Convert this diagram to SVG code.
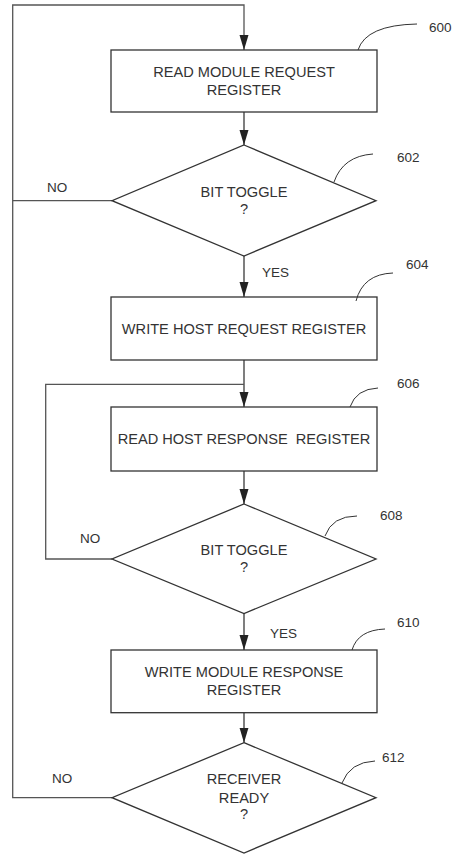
<svg xmlns="http://www.w3.org/2000/svg" width="455" height="854" viewBox="0 0 455 854">
<style>
.shape{fill:#fff;stroke:#333;stroke-width:1.3}
.line{fill:none;stroke:#3a3a3a;stroke-width:1.3}
.loop{fill:none;stroke:#555;stroke-width:1.3}
.lead{fill:none;stroke:#333;stroke-width:1}
text{font-family:"Liberation Sans",Arial,sans-serif;fill:#333}
.t{font-size:14.6px;text-anchor:middle}
.l{font-size:13.5px}
</style>
<defs>
<marker id="arr" markerUnits="userSpaceOnUse" markerWidth="16" markerHeight="10" refX="15" refY="4.5" orient="auto">
<path d="M0,0 L15,4.5 L0,9 z" fill="#222"/>
</marker>
</defs>
<g id="connectors">
<path class="loop" d="M112,797.7 H12.7 V5 H244 V50" marker-end="url(#arr)"/>
<path class="loop" d="M112,200.7 H12.7"/>
<path class="line" d="M244,112 V145" marker-end="url(#arr)"/>
<path class="line" d="M244,256 V297" marker-end="url(#arr)"/>
<path class="line" d="M244,360 V407" marker-end="url(#arr)"/>
<path class="loop" d="M112,559 H45.7 V384.3 H244"/>
<path class="line" d="M244,471 V504" marker-end="url(#arr)"/>
<path class="line" d="M244,613.5 V650" marker-end="url(#arr)"/>
<path class="line" d="M244,712.7 V742.7" marker-end="url(#arr)"/>
<text class="l" x="47" y="192">NO</text>
<text class="l" x="80" y="543">NO</text>
<text class="l" x="52" y="783">NO</text>
<text class="l" x="262" y="277">YES</text>
<text class="l" x="270" y="638">YES</text>
</g>
<g id="n600">
<rect class="shape" x="111" y="50" width="266" height="62"/>
<text class="t" x="244" y="77">READ MODULE REQUEST</text>
<text class="t" x="244" y="95">REGISTER</text>
<path class="lead" d="M358,50 Q366,25 417,24"/>
<text class="l" x="429" y="32">600</text>
</g>
<g id="n602">
<polygon class="shape" points="244,145 376,200.7 244,256 112,200.7"/>
<text class="t" x="244" y="197">BIT TOGGLE</text>
<text class="t" x="244" y="214">?</text>
<path class="lead" d="M334,182 Q343,156 373,154"/>
<text class="l" x="397" y="162">602</text>
</g>
<g id="n604">
<rect class="shape" x="111" y="297" width="266" height="63"/>
<text class="t" x="244" y="333.5">WRITE HOST REQUEST REGISTER</text>
<path class="lead" d="M356,301 Q363,274 393,273"/>
<text class="l" x="406" y="269">604</text>
</g>
<g id="n606">
<rect class="shape" x="111" y="407" width="266" height="64"/>
<text class="t" x="244" y="444" xml:space="preserve">READ HOST RESPONSE  REGISTER</text>
<path class="lead" d="M350,407 Q356,389 378,388"/>
<text class="l" x="397" y="388">606</text>
</g>
<g id="n608">
<polygon class="shape" points="244,504 376,559 244,613.5 112,559"/>
<text class="t" x="244" y="555">BIT TOGGLE</text>
<text class="t" x="244" y="572">?</text>
<path class="lead" d="M325,536 Q332,516 357,516"/>
<text class="l" x="380" y="520">608</text>
</g>
<g id="n610">
<rect class="shape" x="111" y="650" width="266" height="62.7"/>
<text class="t" x="244" y="677">WRITE MODULE RESPONSE</text>
<text class="t" x="244" y="695">REGISTER</text>
<path class="lead" d="M352,650 Q358,630 385,629"/>
<text class="l" x="397" y="627">610</text>
</g>
<g id="n612">
<polygon class="shape" points="244,742.7 376,797.7 244,853 112,797.7"/>
<text class="t" x="244" y="784">RECEIVER</text>
<text class="t" x="244" y="803">READY</text>
<text class="t" x="244" y="819">?</text>
<path class="lead" d="M342,783 Q350,762 375,761"/>
<text class="l" x="382" y="762">612</text>
</g>
</svg>
